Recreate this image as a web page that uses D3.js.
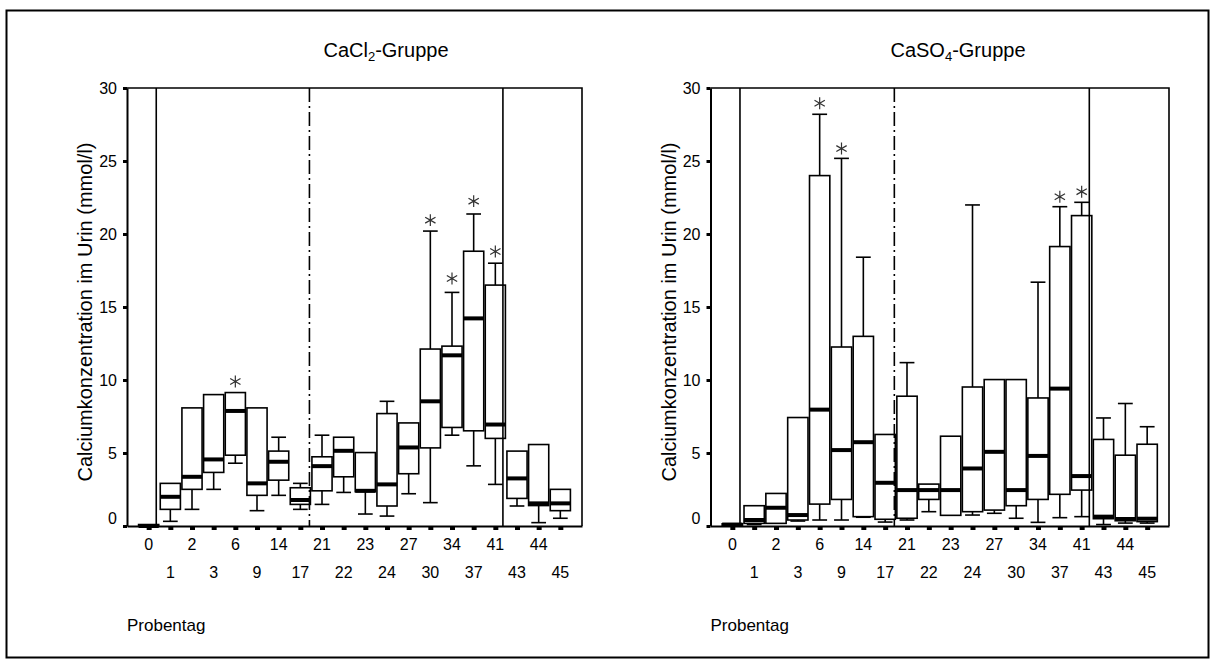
<!DOCTYPE html>
<html>
<head>
<meta charset="utf-8">
<script src="https://cdn.jsdelivr.net/npm/d3@7"></script>
<style>
  body { margin: 0; background: #fff; }
  svg text { font-family: "Liberation Sans", Arial, sans-serif; fill: #000; }
</style>
</head>
<body>
<div id="chart"></div>
<script>
// sampling days (categories on the x axis)
var days = ["0","1","2","3","6","9","14","17","21","22","23","24","27","30","34","37","41","43","44","45"];
var yTicks = [0, 5, 10, 15, 20, 25, 30];

// CaCl2 group: whisker low, Q1, median, Q3, whisker high (mmol/l)
var cacl2Low  = [0, 0.32, 1.14, 2.51, 4.3, 1.05, 2.1, 1.14, 1.48, 2.3, 0.82, 0.68, 2.21, 1.6, 6.22, 4.12, 2.85, 1.37, 0.23, 0.53];
var cacl2Q1   = [0, 1.14, 2.51, 3.67, 4.85, 2.1, 3.14, 1.48, 2.41, 3.37, 2.35, 1.37, 3.58, 5.35, 6.75, 6.52, 6.0, 1.89, 1.4, 1.05];
var cacl2Med  = [0, 2.0, 3.37, 4.56, 7.88, 2.92, 4.4, 1.78, 4.1, 5.15, 2.41, 2.85, 5.38, 8.54, 11.69, 14.22, 6.95, 3.26, 1.55, 1.55];
var cacl2Q3   = [0.1, 2.92, 8.09, 9.0, 9.14, 8.09, 5.13, 2.62, 4.74, 6.08, 5.03, 7.7, 7.06, 12.12, 12.32, 18.82, 16.5, 5.13, 5.58, 2.51];
var cacl2High = [0.1, 2.92, 8.09, 9.0, 9.14, 8.09, 6.08, 2.92, 6.22, 6.08, 5.03, 8.54, 7.06, 20.2, 16.0, 21.37, 18.0, 5.13, 5.58, 2.51];
var cacl2StarDays = ["6", "30", "34", "37", "41"];
var cacl2StarVals = [9.9, 20.95, 16.95, 22.25, 18.8];

// CaSO4 group
var caso4Low  = [0.05, 0.1, 0.18, 0.34, 0.41, 0.41, 0.6, 0.27, 0.41, 0.98, 0.73, 0.75, 0.87, 0.53, 0.25, 0.57, 0.64, 0.1, 0.2, 0.2];
var caso4Q1   = [0.05, 0.18, 0.18, 0.41, 1.5, 1.82, 0.64, 0.46, 0.53, 1.82, 0.73, 0.98, 1.09, 1.39, 1.82, 2.17, 2.46, 0.5, 0.36, 0.3];
var caso4Med  = [0.1, 0.41, 1.25, 0.75, 7.97, 5.2, 5.74, 2.96, 2.46, 2.46, 2.46, 3.94, 5.08, 2.46, 4.8, 9.41, 3.42, 0.64, 0.48, 0.5];
var caso4Q3   = [0.15, 1.39, 2.23, 7.43, 24.0, 12.26, 12.99, 6.27, 8.89, 2.87, 6.15, 9.52, 10.03, 10.03, 8.77, 19.14, 21.26, 5.93, 4.85, 5.6];
var caso4High = [0.15, 1.39, 2.23, 7.43, 28.2, 25.18, 18.41, 6.27, 11.19, 2.87, 6.15, 21.99, 10.03, 10.03, 16.7, 21.87, 22.17, 7.4, 8.39, 6.8];
var caso4StarDays = ["6", "9", "37", "41"];
var caso4StarVals = [28.95, 25.85, 22.55, 22.9];

// phase separators: day after which the line sits, fraction of a step, style
var sepDays  = ["0", "17", "41"];
var sepFrac  = [0.35, 0.42, 0.35];
var sepStyle = ["solid", "dashdot", "solid"];

var W = 1216, H = 664;

var svg = d3.select("#chart")
  .append("svg")
  .attr("width", W)
  .attr("height", H);

// outer frame
svg.append("rect")
  .attr("x", 6.5).attr("y", 10.5)
  .attr("width", 1202).attr("height", 647)
  .attr("fill", "none")
  .attr("stroke", "#000")
  .attr("stroke-width", 2);

function makeRows(low, q1, med, q3, high) {
  return days.map(function(d, i) {
    return { day: d, low: low[i], q1: q1[i], med: med[i], q3: q3[i], high: high[i] };
  });
}

var panels = [
  { left: 127, right: 582, titleMain: "CaCl", titleSub: "2", titleEnd: "-Gruppe", titleX: 386,
    rows: makeRows(cacl2Low, cacl2Q1, cacl2Med, cacl2Q3, cacl2High),
    starDays: cacl2StarDays, starVals: cacl2StarVals },
  { left: 710.5, right: 1169, titleMain: "CaSO", titleSub: "4", titleEnd: "-Gruppe", titleX: 958,
    rows: makeRows(caso4Low, caso4Q1, caso4Med, caso4Q3, caso4High),
    starDays: caso4StarDays, starVals: caso4StarVals }
];

var plotTop = 88, plotBottom = 526;

panels.forEach(function(p) {
  var x = d3.scalePoint().domain(days).range([p.left, p.right]).padding(1);
  var y = d3.scaleLinear().domain([0, 30]).range([plotBottom, plotTop]);
  var step = x.step();
  var boxW = step * 0.93;
  var capW = step * 0.68;

  var g = svg.append("g");

  // title
  var title = g.append("text")
    .attr("x", p.titleX)
    .attr("y", 57)
    .attr("text-anchor", "middle")
    .style("font-size", "20px");
  title.append("tspan").text(p.titleMain);
  title.append("tspan").attr("dy", 4).style("font-size", "13px").text(p.titleSub);
  title.append("tspan").attr("dy", -4).text(p.titleEnd);

  // top and right frame
  g.append("path")
    .attr("d", "M" + p.left + "," + plotTop + "H" + p.right + "V" + plotBottom)
    .attr("fill", "none")
    .attr("stroke", "#000")
    .attr("stroke-width", 1.6);

  // boxes
  var box = g.selectAll(".box")
    .data(p.rows)
    .enter()
    .append("g")
    .attr("class", "box");

  // upper whisker
  box.filter(function(d) { return d.high > d.q3; })
    .append("line")
    .attr("x1", function(d) { return x(d.day); })
    .attr("x2", function(d) { return x(d.day); })
    .attr("y1", function(d) { return y(d.q3); })
    .attr("y2", function(d) { return y(d.high); })
    .attr("stroke", "#000").attr("stroke-width", 1.6);
  box.filter(function(d) { return d.high > d.q3; })
    .append("line")
    .attr("x1", function(d) { return x(d.day) - capW / 2; })
    .attr("x2", function(d) { return x(d.day) + capW / 2; })
    .attr("y1", function(d) { return y(d.high); })
    .attr("y2", function(d) { return y(d.high); })
    .attr("stroke", "#000").attr("stroke-width", 1.6);

  // lower whisker
  box.filter(function(d) { return d.low < d.q1; })
    .append("line")
    .attr("x1", function(d) { return x(d.day); })
    .attr("x2", function(d) { return x(d.day); })
    .attr("y1", function(d) { return y(d.q1); })
    .attr("y2", function(d) { return y(d.low); })
    .attr("stroke", "#000").attr("stroke-width", 1.6);
  box.filter(function(d) { return d.low < d.q1; })
    .append("line")
    .attr("x1", function(d) { return x(d.day) - capW / 2; })
    .attr("x2", function(d) { return x(d.day) + capW / 2; })
    .attr("y1", function(d) { return y(d.low); })
    .attr("y2", function(d) { return y(d.low); })
    .attr("stroke", "#000").attr("stroke-width", 1.6);

  // the box
  box.append("rect")
    .attr("x", function(d) { return x(d.day) - boxW / 2; })
    .attr("y", function(d) { return y(d.q3); })
    .attr("width", boxW)
    .attr("height", function(d) { return Math.max(0.5, y(d.q1) - y(d.q3)); })
    .attr("fill", "#fff")
    .attr("stroke", "#000")
    .attr("stroke-width", 1.6);

  // median
  box.append("line")
    .attr("x1", function(d) { return x(d.day) - boxW / 2; })
    .attr("x2", function(d) { return x(d.day) + boxW / 2; })
    .attr("y1", function(d) { return y(d.med); })
    .attr("y2", function(d) { return y(d.med); })
    .attr("stroke", "#000")
    .attr("stroke-width", 4);

  // extreme markers
  var star = d3.symbol().type(d3.symbolAsterisk).size(100);
  g.selectAll(".star")
    .data(p.starDays)
    .enter()
    .append("path")
    .attr("d", star)
    .attr("transform", function(d, i) {
      return "translate(" + x(d) + "," + y(p.starVals[i]) + ")";
    })
    .attr("fill", "none")
    .attr("stroke", "#333")
    .attr("stroke-width", 1.2);

  // phase separator lines
  sepDays.forEach(function(d, i) {
    var sx = x(d) + sepFrac[i] * step;
    g.append("line")
      .attr("x1", sx).attr("x2", sx)
      .attr("y1", plotTop).attr("y2", plotBottom)
      .attr("stroke", "#000")
      .attr("stroke-width", 1.6)
      .attr("stroke-dasharray", sepStyle[i] === "dashdot" ? "14,4,2,4" : null);
  });

  // y axis
  var yAxis = g.append("g")
    .attr("transform", "translate(" + p.left + ",0)")
    .call(d3.axisLeft(y).tickValues(yTicks).tickSize(4).tickSizeOuter(0).tickPadding(6));
  yAxis.select(".domain").attr("stroke-width", 2);
  yAxis.selectAll(".tick line").attr("stroke-width", 3);
  yAxis.selectAll(".tick text")
    .style("font-size", "16px")
    .style("font-family", "'Liberation Sans', Arial, sans-serif");
  // the zero label sits a little above the axis line
  yAxis.selectAll(".tick text").filter(function(d) { return d === 0; })
    .attr("dy", "-0.15em");

  // x axis
  var xAxis = g.append("g")
    .attr("transform", "translate(0," + plotBottom + ")")
    .call(d3.axisBottom(x).tickSize(4).tickSizeOuter(0).tickFormat(""));
  xAxis.select(".domain").attr("stroke-width", 2);
  xAxis.selectAll(".tick line").attr("stroke-width", 5).attr("y1", 1);

  // day labels in two staggered rows
  g.selectAll(".daylab")
    .data(days)
    .enter()
    .append("text")
    .attr("class", "daylab")
    .attr("x", function(d) { return x(d); })
    .attr("y", function(d, i) { return i % 2 === 0 ? 550 : 578; })
    .attr("text-anchor", "middle")
    .style("font-size", "16px")
    .text(function(d) { return d; });

  // y axis label
  g.append("text")
    .attr("transform", "translate(" + (p.left - 35) + "," + 312 + ") rotate(-90)")
    .attr("text-anchor", "middle")
    .style("font-size", "20px")
    .text("Calciumkonzentration im Urin (mmol/l)");

  // x axis label
  g.append("text")
    .attr("x", p.left)
    .attr("y", 631)
    .style("font-size", "17px")
    .text("Probentag");
});
</script>
</body>
</html>
